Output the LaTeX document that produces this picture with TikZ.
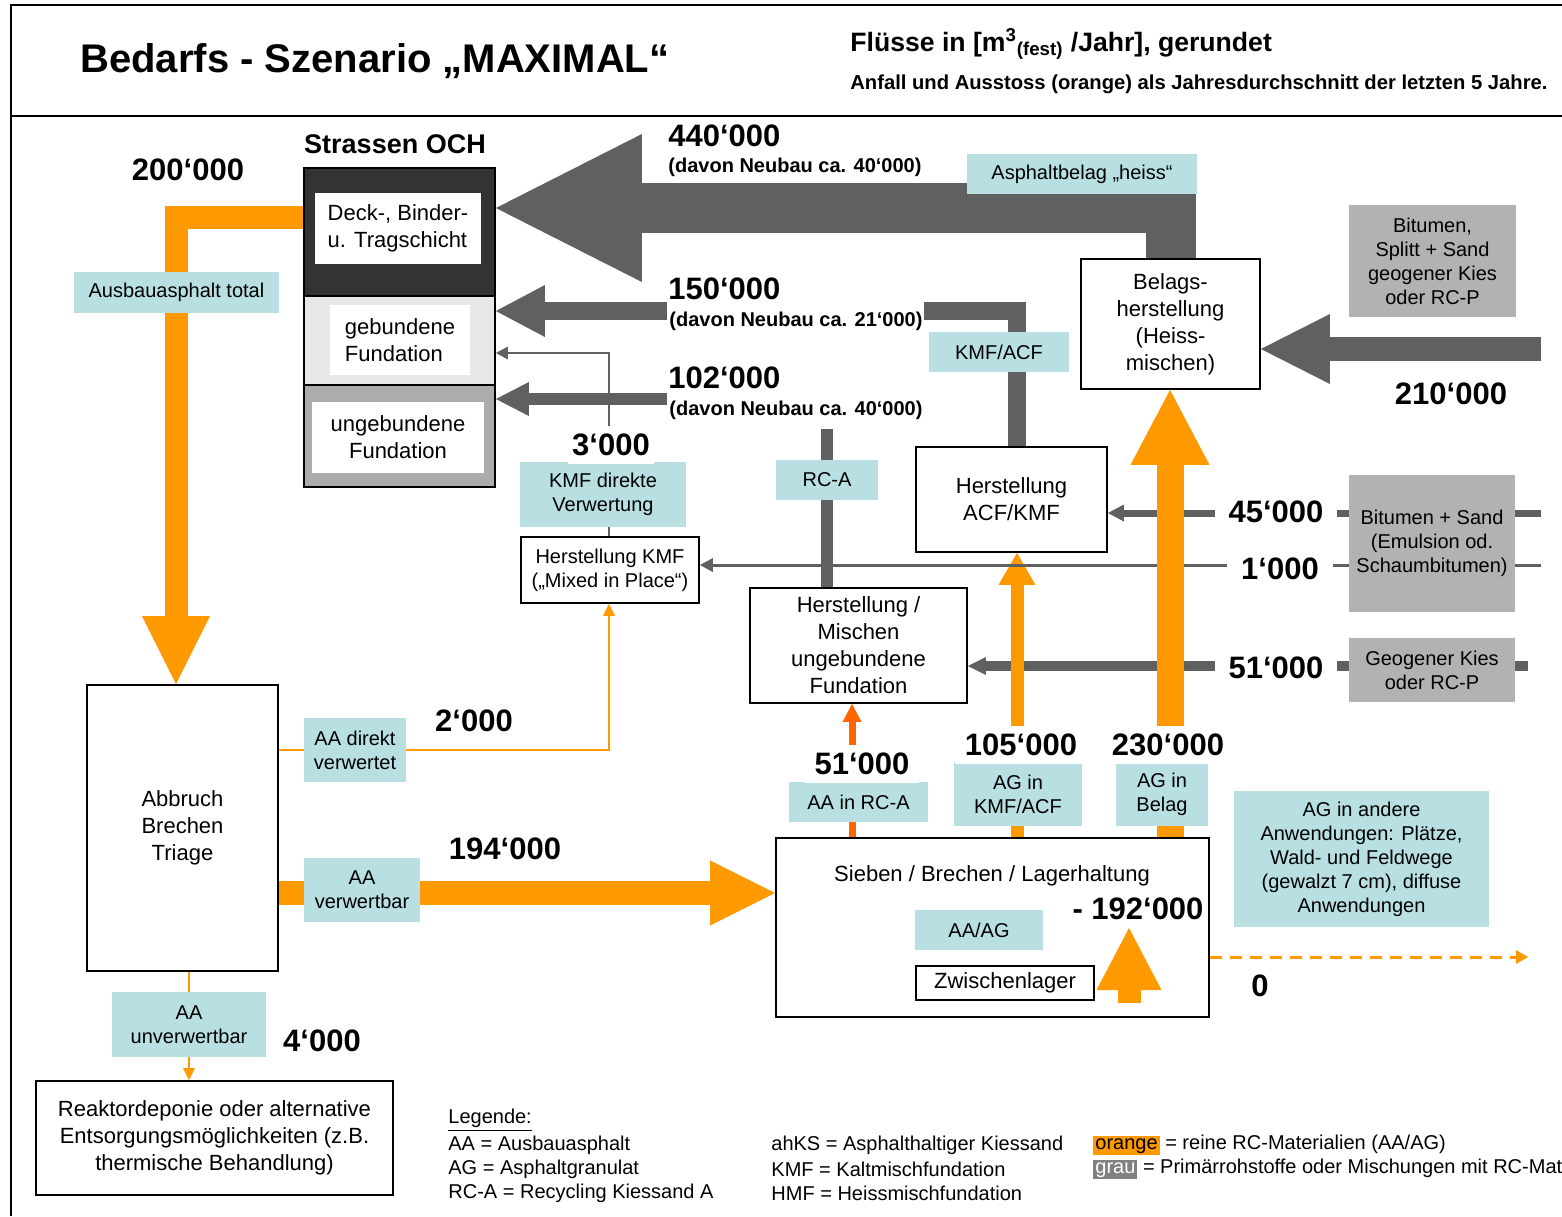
\documentclass[tikz,border=0pt]{standalone}
\usepackage{fontspec}
\setmainfont{Liberation Sans}
\usetikzlibrary{arrows.meta}
\definecolor{lblc}{RGB}{184,223,226}
\definecolor{srcc}{RGB}{178,178,178}
\definecolor{flowg}{RGB}{96,96,96}
\definecolor{flowo}{RGB}{255,153,0}
\definecolor{flowr}{RGB}{255,102,0}
\definecolor{deckc}{RGB}{51,51,51}
\definecolor{gebc}{RGB}{232,232,232}
\definecolor{ungc}{RGB}{172,172,172}
\definecolor{grauc}{RGB}{128,128,128}
\pgfdeclarelayer{bg}
\pgfsetlayers{bg,main}
\setlength{\fboxsep}{1pt}
\begin{document}
\begin{tikzpicture}
[x=0.5pt,y=-0.5pt,%
  every node/.style={inner sep=0pt,align=center},%
  wh/.style 2 args={minimum width=#1,minimum height=#2},%
  box/.style={draw,line width=0.9pt,fill=white,font=\fontsize{11}{13.5}\selectfont},%
  ply/.style={draw,line width=0.9pt,minimum width=95.5pt},%
  lbl/.style={fill=lblc,font=\fontsize{10}{12}\selectfont},%
  src/.style={fill=srcc,font=\fontsize{10}{12}\selectfont},%
  num/.style={font=\fontsize{15.5}{18}\selectfont\bfseries},%
  dav/.style={font=\fontsize{10}{12}\selectfont\bfseries,anchor=west},%
  wbg/.style={fill=white,inner xsep=5pt,inner ysep=4pt},%
  legd/.style={font=\fontsize{10}{12}\selectfont,anchor=west},%
  gfl/.style={draw=flowg},%
  ofl/.style={draw=flowo},%
  hd/.style 2 args={-{Triangle[length=#1,width=#2,line width=0pt]}}]
\useasboundingbox (0,0) rectangle (1562,1216);
\draw[line width=1pt] (11,1216) -- (11,5) -- (1562,5) (11,116) -- (1562,116);
\node[anchor=west,font=\fontsize{20}{24}\selectfont\bfseries] (title) at (80,61) {Bedarfs - Szenario „MAXIMAL“};
\node[anchor=west,font=\fontsize{13.3}{16}\selectfont\bfseries] (unit) at (850,44)
  {Flüsse in [m\textsuperscript{3}\textsubscript{(fest)} /Jahr], gerundet};
\node[anchor=west,font=\fontsize{10.1}{12}\selectfont\bfseries] (sub) at (850,84)
  {Anfall und Ausstoss (orange) als Jahresdurchschnitt der letzten 5 Jahre.};
% Strasse
\node[font=\fontsize{13.5}{16}\selectfont\bfseries] (och) at (395,144) {Strassen OCH};
\node[ply,fill=deckc,minimum height=64pt] (deck) at (399.5,232) {};
\node[ply,fill=gebc,minimum height=44.5pt] (geb) at (399.5,340.5) {};
\node[ply,fill=ungc,minimum height=51pt] (ungeb) at (399.5,436) {};
\node[box,draw=none,wh={83pt}{35.5pt},align=left] (deckin) at (398,228.5) {Deck-, Binder-\\u. Tragschicht};
\node[box,draw=none,wh={70pt}{35pt},align=left] (gebin) at (400,340) {gebundene\\Fundation};
\node[box,draw=none,wh={86pt}{35.5pt}] (ungin) at (398,437.5) {ungebundene\\Fundation};
% Prozesse
\node[box,wh={89.5pt}{65pt}] (belag) at (1170.5,324) {Belags-\\herstellung\\(Heiss-\\mischen)};
\node[box,wh={95.5pt}{52.5pt}] (acf) at (1011.5,499.5) {Herstellung\\ACF/KMF};
\node[box,wh={89pt}{33pt},font=\fontsize{10}{12}\selectfont] (kmf) at (610,570) {Herstellung KMF\\(„Mixed in Place“)};
\node[box,wh={108.5pt}{57.5pt}] (misch) at (858.5,645.5) {Herstellung /\\Mischen\\ungebundene\\Fundation};
\node[box,wh={95.5pt}{143pt}] (abbr) at (182.5,828) {Abbruch\\Brechen\\Triage};
\node[box,wh={178.5pt}{57pt}] (depo) at (214.5,1138)
  {Reaktordeponie oder alternative\\Entsorgungsmöglichkeiten (z.B.\\thermische Behandlung)};
\node[box,wh={216.5pt}{89.5pt}] (sieb) at (992.5,927.5) {};
\node[font=\fontsize{11}{13.5}\selectfont] (siebt) at (992,876) {Sieben / Brechen / Lagerhaltung};
\node[box,wh={89pt}{17pt}] (zwl) at (1005,983) {Zwischenlager};
% Quellen
\node[src,wh={83.5pt}{56pt}] (src1) at (1432.5,261) {Bitumen,\\Splitt + Sand\\geogener Kies\\oder RC-P};
\node[src,wh={83pt}{68.5pt}] (src2) at (1432,543.5) {Bitumen + Sand\\(Emulsion od.\\Schaumbitumen)};
\node[src,wh={83pt}{32pt}] (src3) at (1432,670) {Geogener Kies\\oder RC-P};
\coordinate (r210) at (1541,349);
\coordinate (r45) at (1541,513);
\coordinate (r1) at (1541,565);
\coordinate (r51) at (1528,666);
\coordinate (r0) at (1528,957);
% Fluesse
\begin{pgfonlayer}{bg}
\draw[ofl,line width=11.5pt,hd={34pt}{34pt}] (deck.west |- 0,217) -| (abbr.north -| 176,0);
\draw[ofl,line width=1.25pt,hd={6pt}{6pt}] (abbr.east |- 0,750) -| (kmf.south -| 609,0);
\draw[ofl,line width=12pt,hd={32.5pt}{32.5pt}] (abbr.east |- 0,893) -- (sieb.west |- 0,893);
\draw[ofl,line width=1.25pt,hd={6pt}{6pt}] (abbr.south -| 189,0) -- (depo.north -| 189,0);
\draw[draw=flowr,line width=3.5pt,hd={9pt}{9.5pt}] (sieb.north -| 852,0) -- (misch.south -| 852,0);
\draw[gfl,line width=25pt,hd={73pt}{74pt}] (belag.north) |- (deck.east |- 0,208);
\draw[gfl,line width=9pt,hd={24.5pt}{26pt}] (acf.north -| 1017,0) |- (geb.east |- 0,311);
\draw[gfl,line width=1.25pt,hd={6pt}{6.5pt}] (kmf.north -| 609,0) |- (geb.east |- 0,353);
\draw[gfl,line width=12pt,hd={34.5pt}{35pt}] (r210) -- (belag.east |- r210);
\draw[gfl,line width=3.5pt,hd={8pt}{8.5pt}] (r45) -- (acf.east |- r45);
\draw[gfl,line width=5pt,hd={9pt}{9pt}] (r51) -- (misch.east |- r51);
\draw[ofl,line width=6.5pt,hd={16pt}{18.5pt}] (sieb.north -| 1017,0) -- (acf.south -| 1017,0);
\draw[gfl,line width=1.5pt,hd={6.5pt}{7pt}] (r1) -- (kmf.east |- r1);
\draw[gfl,line width=6pt,hd={16.5pt}{17pt}] (misch.north -| 827,0) |- (ungeb.east |- 0,399);
\draw[ofl,line width=13.5pt,hd={37.5pt}{39.5pt}] (sieb.north -| 1170,0) -- (belag.south -| 1170,0);
\draw[ofl,line width=1.5pt,dash pattern=on 6pt off 4pt,hd={6pt}{7pt}] (sieb.east |- r0) -- (r0);
\end{pgfonlayer}
\coordinate (st192) at (1129,1003);
\coordinate (tp192) at (1129,928);
\draw[ofl,line width=11.5pt,hd={31pt}{32.5pt}] (st192) -- (tp192);
% Beschriftungen
\node[lbl,wh={102.5pt}{20.5pt}] (ausb) at (176.5,292.5) {Ausbauasphalt total};
\node[lbl,wh={115pt}{20pt}] (heiss) at (1082,174) {Asphaltbelag „heiss“};
\node[lbl,wh={70pt}{20pt}] (kmfacf) at (999,352) {KMF/ACF};
\node[lbl,wh={83pt}{32.5pt}] (kmfdir) at (603,494.5) {KMF direkte\\Verwertung};
\node[lbl,wh={51pt}{20pt}] (rca) at (827,480) {RC-A};
\node[lbl,wh={51pt}{32pt}] (aadir) at (355,750) {AA direkt\\verwertet};
\node[lbl,wh={58pt}{32pt}] (aaverw) at (362,890) {AA\\verwertbar};
\node[lbl,wh={77pt}{32.5pt}] (aaunv) at (189,1024.5) {AA\\unverwertbar};
\node[lbl,wh={69.5pt}{20pt}] (aarca) at (858.5,802) {AA in RC-A};
\node[lbl,wh={64pt}{32pt}] (agkmf) at (1018,794) {AG in\\KMF/ACF};
\node[lbl,wh={46pt}{31.5pt}] (agbel) at (1162,794.5) {AG in\\Belag};
\node[lbl,wh={64pt}{20pt}] (aaag) at (979,930) {AA/AG};
\node[lbl,wh={127.5pt}{68pt}] (agand) at (1361.5,859)
  {AG in andere\\Anwendungen: Plätze,\\Wald- und Feldwege\\(gewalzt 7 cm), diffuse\\Anwendungen};
% Mengen
\node[num] (n200) at (188,170) {200‘000};
\node[num,anchor=west] (n440) at (668,136) {440‘000};
\node[dav] (d440) at (668,167) {(davon Neubau ca. 40‘000)};
\node[num,anchor=west] (n150) at (668,289) {150‘000};
\node[dav,fill=white,inner xsep=1pt,minimum height=19pt] (d150) at (667,321) {(davon Neubau ca. 21‘000)};
\node[num,anchor=west] (n102) at (668,378) {102‘000};
\node[dav,fill=white,inner xsep=1pt,minimum height=19pt] (d102) at (667,410) {(davon Neubau ca. 40‘000)};
\node[num,wbg,inner xsep=2pt] (n3) at (611,445) {3‘000};
\node[num] (n210) at (1451,394) {210‘000};
\node[num,wbg,inner xsep=7pt] (n45) at (1276,512) {45‘000};
\node[num,wbg,inner xsep=7pt] (n1) at (1280,569) {1‘000};
\node[num,wbg,inner xsep=7pt] (n51r) at (1276,668) {51‘000};
\node[num] (n2) at (474,721) {2‘000};
\node[num] (n194) at (505,849) {194‘000};
\node[num] (n4) at (322,1041) {4‘000};
\node[num,wbg] (n51) at (862,764) {51‘000};
\node[num,wbg] (n105) at (1021,745) {105‘000};
\node[num,wbg] (n230) at (1168,745) {230‘000};
\node[num] (n192) at (1138,909) {- 192‘000};
\node[num] (n0) at (1260,986) {0};
% Legende
\node[legd] (lg0) at (448,1120) {\underline{Legende:}};
\node[legd] (lg1) at (448,1145) {AA = Ausbauasphalt};
\node[legd] (lg2) at (448,1169) {AG = Asphaltgranulat};
\node[legd] (lg3) at (448,1193) {RC-A = Recycling Kiessand A};
\node[legd] (lg4) at (771,1145) {ahKS = Asphalthaltiger Kiessand};
\node[legd] (lg5) at (771,1169) {KMF = Kaltmischfundation};
\node[legd] (lg6) at (771,1193) {HMF = Heissmischfundation};
\node[legd] (lg7) at (1093,1145) {\colorbox{flowo}{orange} = reine RC-Materialien (AA/AG)};
\node[legd] (lg8) at (1093,1169) {\colorbox{grauc}{\textcolor{white}{grau}} = Primärrohstoffe oder Mischungen mit RC-Mat};
\end{tikzpicture}
\end{document}
